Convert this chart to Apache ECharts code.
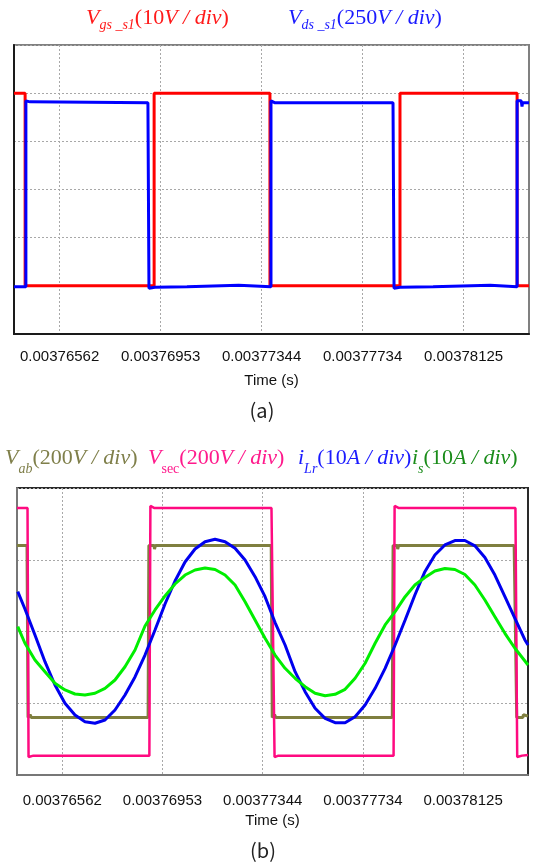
<!DOCTYPE html>
<html><head><meta charset="utf-8">
<script src="https://cdn.jsdelivr.net/npm/echarts@6/dist/echarts.min.js"></script>
<style>html,body{margin:0;padding:0;background:#fff}#c{width:537px;height:868px}</style>
</head><body><div id="c"></div>
<script>
// time axis in microseconds; tick labels in seconds
const tickValues = [3765.625, 3769.53125, 3773.4375, 3777.34375, 3781.25];
const tickLabels = ['0.00376562', '0.00376953', '0.00377344', '0.00377734', '0.00378125'];
const timeMin = 3763.86, timeMax = 3783.78;

// (a) values in divisions
const vgsS1 = [[3763.86,5],[3764.29,5],[3764.29,1],[3769.28,1],[3769.28,5],[3773.76,5],[3773.76,1],[3778.79,1],[3778.79,5],[3783.32,5],[3783.32,1],[3783.78,1]];
const vdsS1 = [[3763.86,0.98],[3764.32,0.98],[3764.32,4.84],[3764.48,4.82],[3764.5,4.8],[3769.04,4.8],[3769.08,0.95],[3769.31,0.97],[3770.55,0.98],[3770.6,1.01],[3772.55,1.01],[3772.6,0.98],[3773.80,0.98],[3773.80,4.84],[3773.96,4.8],[3778.52,4.8],[3778.56,0.95],[3778.79,0.97],[3780.07,0.98],[3780.1,1.01],[3782.28,1.01],[3782.31,0.98],[3783.32,0.98],[3783.32,4.84],[3783.48,4.84],[3783.51,4.72],[3783.53,4.8],[3783.78,4.8]];

// (b) values in divisions
const vab = [[3763.86,3.2],[3764.25,3.2],[3764.29,0.80],[3764.37,0.84],[3764.42,0.80],[3768.97,0.80],[3769.00,3.2],[3769.20,3.2],[3769.22,3.15],[3769.26,3.2],[3773.77,3.2],[3773.81,0.80],[3773.90,0.84],[3773.95,0.80],[3778.49,0.80],[3778.52,3.2],[3778.68,3.2],[3778.70,3.15],[3778.74,3.2],[3783.24,3.2],[3783.34,0.80],[3783.58,0.80],[3783.60,0.84],[3783.78,0.82]];
const vsec = [[3763.86,3.72],[3764.27,3.72],[3764.31,0.25],[3764.50,0.27],[3769.02,0.27],[3769.06,3.75],[3769.22,3.72],[3773.78,3.72],[3773.90,0.25],[3774.05,0.27],[3778.54,0.27],[3778.58,3.75],[3778.75,3.72],[3783.29,3.72],[3783.36,0.25],[3783.55,0.27],[3783.78,0.28]];
const sineTime = [3763.89,3764.17,3764.56,3764.95,3765.34,3765.73,3766.12,3766.51,3766.90,3767.29,3767.68,3768.07,3768.46,3768.85,3769.24,3769.63,3770.02,3770.41,3770.80,3771.19,3771.58,3771.97,3772.36,3772.75,3773.14,3773.53,3773.92,3774.31,3774.70,3775.09,3775.48,3775.87,3776.26,3776.65,3777.04,3777.43,3777.82,3778.21,3778.60,3778.99,3779.37,3779.76,3780.15,3780.54,3780.93,3781.32,3781.71,3782.10,3782.49,3782.88,3783.27,3783.66,3783.78];
const iLr = [2.555,2.314,1.951,1.579,1.254,0.999,0.836,0.743,0.721,0.767,0.906,1.115,1.366,1.672,2.021,2.383,2.704,2.969,3.150,3.252,3.285,3.252,3.160,2.997,2.764,2.485,2.125,1.812,1.440,1.161,0.930,0.790,0.729,0.729,0.813,0.976,1.208,1.487,1.812,2.160,2.509,2.834,3.066,3.206,3.268,3.268,3.194,3.031,2.787,2.485,2.184,1.882,1.812];
const iS = [2.067,1.836,1.603,1.440,1.278,1.185,1.129,1.115,1.139,1.208,1.324,1.509,1.742,2.077,2.300,2.495,2.662,2.787,2.857,2.885,2.864,2.787,2.648,2.415,2.160,1.905,1.672,1.487,1.348,1.231,1.139,1.105,1.125,1.194,1.348,1.557,1.836,2.091,2.276,2.485,2.648,2.753,2.843,2.878,2.864,2.794,2.648,2.439,2.206,1.975,1.766,1.589,1.533];

const pair = (t, v) => t.map((x, i) => [x, v[i]]);
const labelFor = v => { let b = 0; tickValues.forEach((t, i) => { if (Math.abs(t - v) < Math.abs(tickValues[b] - v)) b = i; }); return tickLabels[b]; };

const AX_FONT = 'Liberation Sans, Arial, sans-serif';
const SERIF = 'Liberation Serif, Times New Roman, serif';

function xAxisCfg(gridIndex, lineColor, margin, nameGap) {
  return {
    type: 'value', gridIndex, min: timeMin, max: timeMax,
    axisLine: { show: true, onZero: false, lineStyle: { color: lineColor, width: 2 } },
    axisTick: { show: false, customValues: tickValues },
    axisLabel: { customValues: tickValues, formatter: labelFor, color: '#111', fontFamily: AX_FONT, fontSize: 15, margin },
    splitLine: { show: true, lineStyle: { color: '#a8a8a8', type: [2, 2], width: 1 } },
    name: 'Time (s)', nameLocation: 'middle', nameGap,
    nameTextStyle: { color: '#111', fontFamily: AX_FONT, fontSize: 15 }
  };
}
function yAxisCfg(gridIndex, max, lineColor) {
  return {
    type: 'value', gridIndex, min: 0, max, interval: 1,
    axisLine: { show: true, lineStyle: { color: lineColor, width: 2 } },
    axisTick: { show: false }, axisLabel: { show: false },
    splitLine: { show: true, lineStyle: { color: '#a8a8a8', type: [2, 2], width: 1 } }
  };
}
function richFor(color, subH) {
  const base = { fontFamily: SERIF, fontSize: 22, lineHeight: 22, verticalAlign: 'top', fill: color };
  return {
    v: Object.assign({}, base, { fontStyle: 'italic' }),
    n: Object.assign({}, base),
    sb: { fontFamily: SERIF, fontSize: 14, lineHeight: subH, verticalAlign: 'bottom', fill: color, fontStyle: 'italic' },
    su: { fontFamily: SERIF, fontSize: 14, lineHeight: subH, verticalAlign: 'bottom', fill: color }
  };
}
function label(x, y, text, color, subH) {
  return { type: 'text', x, y, silent: true, style: { text, rich: richFor(color, subH), verticalAlign: 'top', align: 'left', fill: color } };
}

const chart = echarts.init(document.getElementById('c'), null, { renderer: 'canvas' });
chart.setOption({
  animation: false,
  backgroundColor: '#fff',
  grid: [
    { left: 14, right: 8, top: 45, height: 289, show: true, borderColor: '#808080', borderWidth: 2, backgroundColor: 'transparent' },
    { left: 17, right: 9, top: 488, height: 287, show: true, borderColor: '#2a2a2a', borderWidth: 2, backgroundColor: 'transparent' }
  ],
  xAxis: [xAxisCfg(0, '#1a1a1a', 15, 39), xAxisCfg(1, '#777', 18, 38)],
  yAxis: [yAxisCfg(0, 6, '#1a1a1a'), yAxisCfg(1, 4, '#777')],
  series: [
    { name: 'Vgs_s1', type: 'line', xAxisIndex: 0, yAxisIndex: 0, data: vgsS1, showSymbol: false, lineStyle: { color: '#ff0000', width: 3 } },
    { name: 'Vds_s1', type: 'line', xAxisIndex: 0, yAxisIndex: 0, data: vdsS1, showSymbol: false, lineStyle: { color: '#0000ff', width: 3 } },
    { name: 'Vab', type: 'line', xAxisIndex: 1, yAxisIndex: 1, data: vab, showSymbol: false, lineStyle: { color: '#7f7f3f', width: 3 } },
    { name: 'Vsec', type: 'line', xAxisIndex: 1, yAxisIndex: 1, data: vsec, showSymbol: false, lineStyle: { color: '#ff0a80', width: 2.5 } },
    { name: 'iLr', type: 'line', xAxisIndex: 1, yAxisIndex: 1, data: pair(sineTime, iLr), showSymbol: false, lineStyle: { color: '#0000ee', width: 3 } },
    { name: 'is', type: 'line', xAxisIndex: 1, yAxisIndex: 1, data: pair(sineTime, iS), showSymbol: false, lineStyle: { color: '#00ee00', width: 3 } }
  ],
  graphic: [
    label(86, 7, '{v|V}{sb|gs _s1}{n|(10}{v|V / div}{n|)}', '#ff1a1a', 25),
    label(288, 7, '{v|V}{sb|ds _s1}{n|(250}{v|V / div}{n|)}', '#1a1aff', 25),
    label(5, 447, '{v|V}{sb|ab}{n|(200}{v|V / div}{n|)}', '#7f7f4a', 29),
    label(148, 447, '{v|V}{su|sec}{n|(200}{v|V / div}{n|)}', '#ff1a8c', 29),
    label(298, 447, '{v|i}{sb|Lr}{n|(10}{v|A / div}{n|)}', '#1a1aff', 29),
    label(412, 447, '{v|i}{sb|s}{n|(10}{v|A / div}{n|)}', '#1a8c1a', 29),
    { type: 'text', x: 262, y: 410, silent: true, style: { text: '(a)', fontFamily: 'Noto Sans CJK KR, sans-serif', fontSize: 20, fill: '#222', align: 'center', verticalAlign: 'middle' } },
    { type: 'text', x: 263, y: 850, silent: true, style: { text: '(b)', fontFamily: 'Noto Sans CJK KR, sans-serif', fontSize: 20, fill: '#222', align: 'center', verticalAlign: 'middle' } }
  ]
});
</script></body></html>
